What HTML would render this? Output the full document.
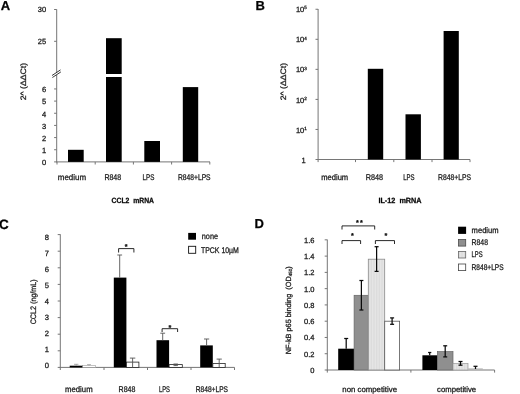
<!DOCTYPE html>
<html lang="en">
<head>
<meta charset="utf-8">
<title>Figure</title>
<style>
html,body{margin:0;padding:0;background:#fff;}
body{width:520px;height:394px;overflow:hidden;}
text{stroke:#1a1a1a;stroke-width:0.28px;}
svg{display:block;font-family:"Liberation Sans",sans-serif;text-rendering:geometricPrecision;filter:grayscale(1);}
</style>
</head>
<body>
<svg width="520" height="394" viewBox="0 0 520 394">
<defs>
<pattern id="dots" width="1.6" height="4" patternUnits="userSpaceOnUse">
<rect width="1.6" height="4" fill="#e6e6e6"/>
<rect x="0" width="0.6" height="4" fill="#d6d6d6"/>
</pattern>
</defs>
<rect width="520" height="394" fill="#fff"/>
<text x="0.80" y="10.30" font-size="13" text-anchor="start" font-weight="bold" fill="#000">A</text>
<text x="255.50" y="10.30" font-size="13" text-anchor="start" font-weight="bold" fill="#000">B</text>
<text x="-0.90" y="229.30" font-size="13.5" text-anchor="start" font-weight="bold" fill="#000">C</text>
<text x="254.60" y="228.40" font-size="13" text-anchor="start" font-weight="bold" fill="#000">D</text>
<line x1="56.70" y1="9.30" x2="56.70" y2="72.40" stroke="#767676" stroke-width="1"/>
<line x1="56.70" y1="75.00" x2="56.70" y2="162.40" stroke="#767676" stroke-width="1"/>
<line x1="56.20" y1="161.90" x2="210.00" y2="161.90" stroke="#767676" stroke-width="1"/>
<line x1="54.10" y1="9.50" x2="56.70" y2="9.50" stroke="#767676" stroke-width="1"/>
<text x="46.20" y="11.80" font-size="7.5" text-anchor="end" font-weight="normal" fill="#1a1a1a">30</text>
<line x1="54.10" y1="41.30" x2="56.70" y2="41.30" stroke="#767676" stroke-width="1"/>
<text x="46.20" y="44.30" font-size="7.5" text-anchor="end" font-weight="normal" fill="#1a1a1a">25</text>
<line x1="54.10" y1="161.90" x2="56.70" y2="161.90" stroke="#767676" stroke-width="1"/>
<text x="46.20" y="165.20" font-size="7.5" text-anchor="end" font-weight="normal" fill="#1a1a1a">0</text>
<line x1="54.10" y1="149.74" x2="56.70" y2="149.74" stroke="#767676" stroke-width="1"/>
<text x="46.20" y="153.04" font-size="7.5" text-anchor="end" font-weight="normal" fill="#1a1a1a">1</text>
<line x1="54.10" y1="137.58" x2="56.70" y2="137.58" stroke="#767676" stroke-width="1"/>
<text x="46.20" y="140.88" font-size="7.5" text-anchor="end" font-weight="normal" fill="#1a1a1a">2</text>
<line x1="54.10" y1="125.42" x2="56.70" y2="125.42" stroke="#767676" stroke-width="1"/>
<text x="46.20" y="128.72" font-size="7.5" text-anchor="end" font-weight="normal" fill="#1a1a1a">3</text>
<line x1="54.10" y1="113.26" x2="56.70" y2="113.26" stroke="#767676" stroke-width="1"/>
<text x="46.20" y="116.56" font-size="7.5" text-anchor="end" font-weight="normal" fill="#1a1a1a">4</text>
<line x1="54.10" y1="101.10" x2="56.70" y2="101.10" stroke="#767676" stroke-width="1"/>
<text x="46.20" y="104.40" font-size="7.5" text-anchor="end" font-weight="normal" fill="#1a1a1a">5</text>
<line x1="54.10" y1="88.94" x2="56.70" y2="88.94" stroke="#767676" stroke-width="1"/>
<text x="46.20" y="92.24" font-size="7.5" text-anchor="end" font-weight="normal" fill="#1a1a1a">6</text>
<line x1="57.00" y1="161.90" x2="57.00" y2="164.50" stroke="#767676" stroke-width="1"/>
<line x1="95.20" y1="161.90" x2="95.20" y2="164.50" stroke="#767676" stroke-width="1"/>
<line x1="133.40" y1="161.90" x2="133.40" y2="164.50" stroke="#767676" stroke-width="1"/>
<line x1="171.60" y1="161.90" x2="171.60" y2="164.50" stroke="#767676" stroke-width="1"/>
<line x1="209.80" y1="161.90" x2="209.80" y2="164.50" stroke="#767676" stroke-width="1"/>
<line x1="52.00" y1="75.50" x2="60.50" y2="69.90" stroke="#222" stroke-width="0.9"/>
<line x1="52.40" y1="77.50" x2="60.90" y2="71.90" stroke="#222" stroke-width="0.9"/>
<rect x="68.00" y="149.80" width="15.70" height="12.10" fill="#000"/>
<rect x="106.00" y="38.20" width="15.70" height="35.80" fill="#000"/>
<rect x="106.00" y="77.00" width="15.70" height="84.90" fill="#000"/>
<rect x="144.30" y="141.00" width="15.70" height="20.90" fill="#000"/>
<rect x="182.80" y="87.10" width="15.40" height="74.80" fill="#000"/>
<text x="57.80" y="179.80" font-size="8.2" text-anchor="start" font-weight="normal" fill="#1a1a1a" textLength="28.3" lengthAdjust="spacingAndGlyphs">medium</text>
<text x="104.40" y="179.80" font-size="8.2" text-anchor="start" font-weight="normal" fill="#1a1a1a" textLength="16.8" lengthAdjust="spacingAndGlyphs">R848</text>
<text x="142.50" y="179.80" font-size="8.2" text-anchor="start" font-weight="normal" fill="#1a1a1a" textLength="11.8" lengthAdjust="spacingAndGlyphs">LPS</text>
<text x="178.00" y="179.80" font-size="8.2" text-anchor="start" font-weight="normal" fill="#1a1a1a" textLength="32.6" lengthAdjust="spacingAndGlyphs">R848+LPS</text>
<text transform="translate(25.70,81.60) rotate(-90)" font-size="7.9" text-anchor="middle" fill="#1a1a1a" textLength="37.4" lengthAdjust="spacingAndGlyphs">2^ (ΔΔCt)</text>
<text x="111.60" y="203.20" font-size="7.6" text-anchor="start" font-weight="bold" fill="#000" textLength="42.4" lengthAdjust="spacingAndGlyphs">CCL2 &#160;mRNA</text>
<line x1="318.10" y1="9.00" x2="318.10" y2="160.00" stroke="#767676" stroke-width="1"/>
<line x1="317.60" y1="159.50" x2="470.00" y2="159.50" stroke="#767676" stroke-width="1"/>
<line x1="315.50" y1="159.50" x2="318.10" y2="159.50" stroke="#767676" stroke-width="1"/>
<text x="305.70" y="162.60" font-size="7.5" text-anchor="end" font-weight="normal" fill="#1a1a1a">1</text>
<line x1="315.50" y1="129.45" x2="318.10" y2="129.45" stroke="#767676" stroke-width="1"/>
<text x="306.80" y="132.55" font-size="7.5" text-anchor="end" font-weight="normal" fill="#1a1a1a">10<tspan font-size="4.6" dy="-2.9">1</tspan></text>
<line x1="315.50" y1="99.40" x2="318.10" y2="99.40" stroke="#767676" stroke-width="1"/>
<text x="306.80" y="102.50" font-size="7.5" text-anchor="end" font-weight="normal" fill="#1a1a1a">10<tspan font-size="4.6" dy="-2.9">2</tspan></text>
<line x1="315.50" y1="69.35" x2="318.10" y2="69.35" stroke="#767676" stroke-width="1"/>
<text x="306.80" y="72.45" font-size="7.5" text-anchor="end" font-weight="normal" fill="#1a1a1a">10<tspan font-size="4.6" dy="-2.9">3</tspan></text>
<line x1="315.50" y1="39.30" x2="318.10" y2="39.30" stroke="#767676" stroke-width="1"/>
<text x="306.80" y="42.40" font-size="7.5" text-anchor="end" font-weight="normal" fill="#1a1a1a">10<tspan font-size="4.6" dy="-2.9">4</tspan></text>
<line x1="315.50" y1="9.25" x2="318.10" y2="9.25" stroke="#767676" stroke-width="1"/>
<text x="306.80" y="12.35" font-size="7.5" text-anchor="end" font-weight="normal" fill="#1a1a1a">10<tspan font-size="4.6" dy="-2.9">5</tspan></text>
<line x1="318.10" y1="159.50" x2="318.10" y2="162.10" stroke="#767676" stroke-width="1"/>
<line x1="355.50" y1="159.50" x2="355.50" y2="162.10" stroke="#767676" stroke-width="1"/>
<line x1="393.80" y1="159.50" x2="393.80" y2="162.10" stroke="#767676" stroke-width="1"/>
<line x1="432.00" y1="159.50" x2="432.00" y2="162.10" stroke="#767676" stroke-width="1"/>
<line x1="470.00" y1="159.50" x2="470.00" y2="162.10" stroke="#767676" stroke-width="1"/>
<rect x="367.80" y="68.80" width="15.40" height="90.70" fill="#000"/>
<rect x="405.50" y="114.30" width="15.40" height="45.20" fill="#000"/>
<rect x="443.60" y="31.00" width="15.20" height="128.50" fill="#000"/>
<text x="321.20" y="179.70" font-size="8.2" text-anchor="start" font-weight="normal" fill="#1a1a1a" textLength="27.0" lengthAdjust="spacingAndGlyphs">medium</text>
<text x="365.70" y="179.70" font-size="8.2" text-anchor="start" font-weight="normal" fill="#1a1a1a" textLength="17.3" lengthAdjust="spacingAndGlyphs">R848</text>
<text x="403.20" y="179.70" font-size="8.2" text-anchor="start" font-weight="normal" fill="#1a1a1a" textLength="11.4" lengthAdjust="spacingAndGlyphs">LPS</text>
<text x="438.00" y="179.70" font-size="8.2" text-anchor="start" font-weight="normal" fill="#1a1a1a" textLength="33.0" lengthAdjust="spacingAndGlyphs">R848+LPS</text>
<text transform="translate(285.80,81.60) rotate(-90)" font-size="7.9" text-anchor="middle" fill="#1a1a1a" textLength="37.4" lengthAdjust="spacingAndGlyphs">2^ (ΔΔCt)</text>
<text x="378.40" y="203.20" font-size="7.6" text-anchor="start" font-weight="bold" fill="#000" textLength="43.2" lengthAdjust="spacingAndGlyphs">IL-12 &#160;mRNA</text>
<line x1="60.30" y1="234.30" x2="60.30" y2="367.90" stroke="#767676" stroke-width="1"/>
<line x1="59.80" y1="367.40" x2="234.50" y2="367.40" stroke="#767676" stroke-width="1"/>
<line x1="57.70" y1="367.40" x2="60.30" y2="367.40" stroke="#767676" stroke-width="1"/>
<text x="49.10" y="368.15" font-size="7.6" text-anchor="end" font-weight="normal" fill="#1a1a1a">0</text>
<line x1="57.70" y1="350.80" x2="60.30" y2="350.80" stroke="#767676" stroke-width="1"/>
<text x="49.10" y="352.15" font-size="7.6" text-anchor="end" font-weight="normal" fill="#1a1a1a">1</text>
<line x1="57.70" y1="334.20" x2="60.30" y2="334.20" stroke="#767676" stroke-width="1"/>
<text x="49.10" y="336.15" font-size="7.6" text-anchor="end" font-weight="normal" fill="#1a1a1a">2</text>
<line x1="57.70" y1="317.60" x2="60.30" y2="317.60" stroke="#767676" stroke-width="1"/>
<text x="49.10" y="320.15" font-size="7.6" text-anchor="end" font-weight="normal" fill="#1a1a1a">3</text>
<line x1="57.70" y1="301.00" x2="60.30" y2="301.00" stroke="#767676" stroke-width="1"/>
<text x="49.10" y="304.15" font-size="7.6" text-anchor="end" font-weight="normal" fill="#1a1a1a">4</text>
<line x1="57.70" y1="284.40" x2="60.30" y2="284.40" stroke="#767676" stroke-width="1"/>
<text x="49.10" y="288.15" font-size="7.6" text-anchor="end" font-weight="normal" fill="#1a1a1a">5</text>
<line x1="57.70" y1="267.80" x2="60.30" y2="267.80" stroke="#767676" stroke-width="1"/>
<text x="49.10" y="272.15" font-size="7.6" text-anchor="end" font-weight="normal" fill="#1a1a1a">6</text>
<line x1="57.70" y1="251.20" x2="60.30" y2="251.20" stroke="#767676" stroke-width="1"/>
<text x="49.10" y="256.15" font-size="7.6" text-anchor="end" font-weight="normal" fill="#1a1a1a">7</text>
<line x1="57.70" y1="234.60" x2="60.30" y2="234.60" stroke="#767676" stroke-width="1"/>
<text x="49.10" y="240.15" font-size="7.6" text-anchor="end" font-weight="normal" fill="#1a1a1a">8</text>
<line x1="60.30" y1="367.40" x2="60.30" y2="370.00" stroke="#767676" stroke-width="1"/>
<line x1="104.00" y1="367.40" x2="104.00" y2="370.00" stroke="#767676" stroke-width="1"/>
<line x1="147.50" y1="367.40" x2="147.50" y2="370.00" stroke="#767676" stroke-width="1"/>
<line x1="191.00" y1="367.40" x2="191.00" y2="370.00" stroke="#767676" stroke-width="1"/>
<line x1="234.50" y1="367.40" x2="234.50" y2="370.00" stroke="#767676" stroke-width="1"/>
<rect x="69.70" y="365.70" width="13.00" height="1.70" fill="#000"/>
<rect x="82.70" y="365.60" width="13.00" height="1.80" fill="#fff" stroke="#888" stroke-width="0.5"/>
<line x1="76.20" y1="364.30" x2="76.20" y2="365.70" stroke="#888" stroke-width="0.7"/>
<line x1="74.00" y1="364.30" x2="78.40" y2="364.30" stroke="#888" stroke-width="0.7"/>
<line x1="89.00" y1="364.60" x2="89.00" y2="365.60" stroke="#999" stroke-width="0.7"/>
<line x1="87.00" y1="364.60" x2="91.00" y2="364.60" stroke="#999" stroke-width="0.7"/>
<rect x="113.80" y="277.60" width="12.60" height="89.80" fill="#000"/>
<line x1="119.70" y1="255.00" x2="119.70" y2="277.70" stroke="#555" stroke-width="0.9"/>
<line x1="117.30" y1="255.00" x2="122.10" y2="255.00" stroke="#555" stroke-width="0.9"/>
<rect x="126.40" y="362.10" width="12.50" height="5.30" fill="#fff" stroke="#222" stroke-width="0.8"/>
<line x1="132.60" y1="358.10" x2="132.60" y2="367.40" stroke="#555" stroke-width="0.9"/>
<line x1="129.90" y1="358.10" x2="135.30" y2="358.10" stroke="#555" stroke-width="0.9"/>
<path d="M118.60 252.50V248.60H133.90V252.50" fill="none" stroke="#111" stroke-width="0.9"/>
<text x="126.20" y="248.98" font-size="7.2" text-anchor="middle" font-weight="bold" fill="#000">*</text>
<rect x="156.50" y="340.20" width="12.60" height="27.20" fill="#000"/>
<line x1="162.70" y1="333.20" x2="162.70" y2="340.30" stroke="#555" stroke-width="0.9"/>
<line x1="160.30" y1="333.20" x2="165.10" y2="333.20" stroke="#555" stroke-width="0.9"/>
<rect x="169.10" y="364.60" width="13.20" height="2.80" fill="#fff" stroke="#222" stroke-width="0.8"/>
<line x1="175.70" y1="364.00" x2="175.70" y2="365.60" stroke="#555" stroke-width="0.9"/>
<line x1="173.50" y1="364.00" x2="177.90" y2="364.00" stroke="#555" stroke-width="0.9"/>
<line x1="173.50" y1="365.60" x2="177.90" y2="365.60" stroke="#555" stroke-width="0.9"/>
<path d="M162.10 332.00V328.70H177.60V332.00" fill="none" stroke="#111" stroke-width="0.9"/>
<text x="169.90" y="329.68" font-size="7.2" text-anchor="middle" font-weight="bold" fill="#000">*</text>
<rect x="200.20" y="345.40" width="12.60" height="22.00" fill="#000"/>
<line x1="206.60" y1="339.00" x2="206.60" y2="345.60" stroke="#555" stroke-width="0.9"/>
<line x1="204.00" y1="339.00" x2="209.20" y2="339.00" stroke="#555" stroke-width="0.9"/>
<rect x="212.80" y="363.40" width="12.40" height="4.00" fill="#fff" stroke="#222" stroke-width="0.8"/>
<line x1="219.20" y1="359.10" x2="219.20" y2="367.40" stroke="#555" stroke-width="0.9"/>
<line x1="216.60" y1="359.10" x2="221.80" y2="359.10" stroke="#555" stroke-width="0.9"/>
<rect x="188.20" y="232.90" width="7.80" height="6.80" fill="#000"/>
<text x="201.80" y="239.00" font-size="8.2" text-anchor="start" font-weight="normal" fill="#1a1a1a" textLength="16.3" lengthAdjust="spacingAndGlyphs">none</text>
<rect x="188.60" y="246.30" width="7.10" height="7.00" fill="#fff" stroke="#111" stroke-width="0.9"/>
<text x="201.00" y="253.30" font-size="8.2" text-anchor="start" font-weight="normal" fill="#1a1a1a" textLength="37.9" lengthAdjust="spacingAndGlyphs">TPCK 10µM</text>
<text x="65.00" y="391.50" font-size="8.2" text-anchor="start" font-weight="normal" fill="#1a1a1a" textLength="27.6" lengthAdjust="spacingAndGlyphs">medium</text>
<text x="118.60" y="391.50" font-size="8.2" text-anchor="start" font-weight="normal" fill="#1a1a1a" textLength="16.8" lengthAdjust="spacingAndGlyphs">R848</text>
<text x="158.90" y="391.50" font-size="8.2" text-anchor="start" font-weight="normal" fill="#1a1a1a" textLength="11.0" lengthAdjust="spacingAndGlyphs">LPS</text>
<text x="195.80" y="391.50" font-size="8.2" text-anchor="start" font-weight="normal" fill="#1a1a1a" textLength="32.2" lengthAdjust="spacingAndGlyphs">R848+LPS</text>
<text transform="translate(35.70,301.80) rotate(-90)" font-size="7.9" text-anchor="middle" fill="#1a1a1a" textLength="45.0" lengthAdjust="spacingAndGlyphs">CCL2 (ng/mL)</text>
<line x1="327.30" y1="239.60" x2="327.30" y2="370.50" stroke="#767676" stroke-width="1"/>
<line x1="326.80" y1="370.00" x2="494.60" y2="370.00" stroke="#767676" stroke-width="1"/>
<line x1="324.70" y1="370.00" x2="327.30" y2="370.00" stroke="#767676" stroke-width="1"/>
<text x="314.50" y="373.00" font-size="7.5" text-anchor="end" font-weight="normal" fill="#1a1a1a">0</text>
<line x1="324.70" y1="353.73" x2="327.30" y2="353.73" stroke="#767676" stroke-width="1"/>
<text x="314.50" y="356.73" font-size="7.5" text-anchor="end" font-weight="normal" fill="#1a1a1a">0.2</text>
<line x1="324.70" y1="337.46" x2="327.30" y2="337.46" stroke="#767676" stroke-width="1"/>
<text x="314.50" y="340.46" font-size="7.5" text-anchor="end" font-weight="normal" fill="#1a1a1a">0.4</text>
<line x1="324.70" y1="321.19" x2="327.30" y2="321.19" stroke="#767676" stroke-width="1"/>
<text x="314.50" y="324.19" font-size="7.5" text-anchor="end" font-weight="normal" fill="#1a1a1a">0.6</text>
<line x1="324.70" y1="304.92" x2="327.30" y2="304.92" stroke="#767676" stroke-width="1"/>
<text x="314.50" y="307.92" font-size="7.5" text-anchor="end" font-weight="normal" fill="#1a1a1a">0.8</text>
<line x1="324.70" y1="288.65" x2="327.30" y2="288.65" stroke="#767676" stroke-width="1"/>
<text x="314.50" y="291.65" font-size="7.5" text-anchor="end" font-weight="normal" fill="#1a1a1a">1.0</text>
<line x1="324.70" y1="272.38" x2="327.30" y2="272.38" stroke="#767676" stroke-width="1"/>
<text x="314.50" y="275.38" font-size="7.5" text-anchor="end" font-weight="normal" fill="#1a1a1a">1.2</text>
<line x1="324.70" y1="256.11" x2="327.30" y2="256.11" stroke="#767676" stroke-width="1"/>
<text x="314.50" y="259.11" font-size="7.5" text-anchor="end" font-weight="normal" fill="#1a1a1a">1.4</text>
<line x1="324.70" y1="239.84" x2="327.30" y2="239.84" stroke="#767676" stroke-width="1"/>
<text x="314.50" y="242.84" font-size="7.5" text-anchor="end" font-weight="normal" fill="#1a1a1a">1.6</text>
<line x1="327.30" y1="370.00" x2="327.30" y2="372.60" stroke="#767676" stroke-width="1"/>
<line x1="410.90" y1="370.00" x2="410.90" y2="372.60" stroke="#767676" stroke-width="1"/>
<line x1="494.60" y1="370.00" x2="494.60" y2="372.60" stroke="#767676" stroke-width="1"/>
<rect x="338.20" y="348.70" width="15.90" height="21.30" fill="#000"/>
<line x1="346.20" y1="338.50" x2="346.20" y2="348.70" stroke="#0a0a0a" stroke-width="1.25"/>
<line x1="344.20" y1="338.50" x2="348.20" y2="338.50" stroke="#0a0a0a" stroke-width="1.25"/>
<rect x="354.10" y="295.30" width="14.20" height="74.70" fill="#8f8f8f" stroke="#666" stroke-width="0.7"/>
<line x1="361.40" y1="280.50" x2="361.40" y2="310.00" stroke="#0a0a0a" stroke-width="1.25"/>
<line x1="359.40" y1="280.50" x2="363.40" y2="280.50" stroke="#0a0a0a" stroke-width="1.25"/>
<line x1="359.40" y1="310.00" x2="363.40" y2="310.00" stroke="#0a0a0a" stroke-width="1.25"/>
<rect x="368.30" y="259.20" width="16.40" height="110.80" fill="url(#dots)" stroke="#8a8a8a" stroke-width="0.8"/>
<line x1="376.60" y1="246.70" x2="376.60" y2="271.40" stroke="#0a0a0a" stroke-width="1.25"/>
<line x1="374.60" y1="246.70" x2="378.60" y2="246.70" stroke="#0a0a0a" stroke-width="1.25"/>
<line x1="374.60" y1="271.40" x2="378.60" y2="271.40" stroke="#0a0a0a" stroke-width="1.25"/>
<rect x="384.70" y="321.20" width="14.90" height="48.80" fill="#fff" stroke="#555" stroke-width="0.8"/>
<line x1="392.10" y1="317.90" x2="392.10" y2="324.30" stroke="#0a0a0a" stroke-width="1.25"/>
<line x1="390.10" y1="317.90" x2="394.10" y2="317.90" stroke="#0a0a0a" stroke-width="1.25"/>
<line x1="390.10" y1="324.30" x2="394.10" y2="324.30" stroke="#0a0a0a" stroke-width="1.25"/>
<path d="M342.00 229.50V225.90H374.70V229.50" fill="none" stroke="#111" stroke-width="0.9"/>
<text x="357.50" y="225.18" font-size="7.2" text-anchor="middle" font-weight="bold" fill="#000">*</text>
<text x="361.30" y="225.18" font-size="7.2" text-anchor="middle" font-weight="bold" fill="#000">*</text>
<path d="M342.00 244.00V240.60H360.60V244.00" fill="none" stroke="#111" stroke-width="0.9"/>
<text x="352.50" y="238.38" font-size="7.2" text-anchor="middle" font-weight="bold" fill="#000">*</text>
<path d="M375.40 244.00V240.60H394.50V244.00" fill="none" stroke="#111" stroke-width="0.9"/>
<text x="385.90" y="238.38" font-size="7.2" text-anchor="middle" font-weight="bold" fill="#000">*</text>
<rect x="422.40" y="355.30" width="15.00" height="14.70" fill="#000"/>
<line x1="429.70" y1="352.50" x2="429.70" y2="355.30" stroke="#0a0a0a" stroke-width="1.25"/>
<line x1="428.10" y1="352.50" x2="431.30" y2="352.50" stroke="#0a0a0a" stroke-width="1.25"/>
<rect x="437.40" y="351.60" width="15.60" height="18.40" fill="#8f8f8f" stroke="#666" stroke-width="0.7"/>
<line x1="445.20" y1="345.80" x2="445.20" y2="356.90" stroke="#0a0a0a" stroke-width="1.25"/>
<line x1="443.20" y1="345.80" x2="447.20" y2="345.80" stroke="#0a0a0a" stroke-width="1.25"/>
<line x1="443.20" y1="356.90" x2="447.20" y2="356.90" stroke="#0a0a0a" stroke-width="1.25"/>
<rect x="453.00" y="363.40" width="15.00" height="6.60" fill="url(#dots)" stroke="#999" stroke-width="0.7"/>
<line x1="460.50" y1="361.50" x2="460.50" y2="365.20" stroke="#0a0a0a" stroke-width="1.25"/>
<line x1="458.50" y1="361.50" x2="462.50" y2="361.50" stroke="#0a0a0a" stroke-width="1.25"/>
<line x1="458.50" y1="365.20" x2="462.50" y2="365.20" stroke="#0a0a0a" stroke-width="1.25"/>
<rect x="468.10" y="368.40" width="14.70" height="1.60" fill="#b5b5b5"/>
<line x1="475.50" y1="366.30" x2="475.50" y2="369.00" stroke="#0a0a0a" stroke-width="1.25"/>
<line x1="473.50" y1="366.30" x2="477.50" y2="366.30" stroke="#0a0a0a" stroke-width="1.25"/>
<rect x="458.10" y="226.70" width="8.00" height="7.20" fill="#000"/>
<text x="471.60" y="232.90" font-size="8.2" text-anchor="start" font-weight="normal" fill="#1a1a1a" textLength="27.0" lengthAdjust="spacingAndGlyphs">medium</text>
<rect x="458.50" y="239.50" width="7.20" height="6.60" fill="#8f8f8f" stroke="#4a4a4a" stroke-width="0.8"/>
<text x="471.60" y="245.40" font-size="8.2" text-anchor="start" font-weight="normal" fill="#1a1a1a" textLength="16.4" lengthAdjust="spacingAndGlyphs">R848</text>
<rect x="458.50" y="251.40" width="7.20" height="6.60" fill="url(#dots)" stroke="#666" stroke-width="0.8"/>
<text x="471.60" y="257.30" font-size="8.2" text-anchor="start" font-weight="normal" fill="#1a1a1a" textLength="11.1" lengthAdjust="spacingAndGlyphs">LPS</text>
<rect x="458.50" y="264.00" width="7.20" height="6.60" fill="#fff" stroke="#444" stroke-width="0.8"/>
<text x="471.60" y="269.90" font-size="8.2" text-anchor="start" font-weight="normal" fill="#1a1a1a" textLength="32.0" lengthAdjust="spacingAndGlyphs">R848+LPS</text>
<text x="342.30" y="391.70" font-size="7.8" text-anchor="start" font-weight="normal" fill="#1a1a1a" textLength="54.7" lengthAdjust="spacingAndGlyphs">non competitive</text>
<text x="437.10" y="391.70" font-size="7.8" text-anchor="start" font-weight="normal" fill="#1a1a1a" textLength="39.0" lengthAdjust="spacingAndGlyphs">competitive</text>
<text transform="translate(291.00,310.30) rotate(-90)" font-size="7.5" text-anchor="middle" fill="#1a1a1a" textLength="87.8" lengthAdjust="spacingAndGlyphs">NF-kB p65 binding &#160;(OD<tspan font-size="4.6" dy="1.4">450</tspan><tspan dy="-1.4">)</tspan></text>
</svg>
</body>
</html>
